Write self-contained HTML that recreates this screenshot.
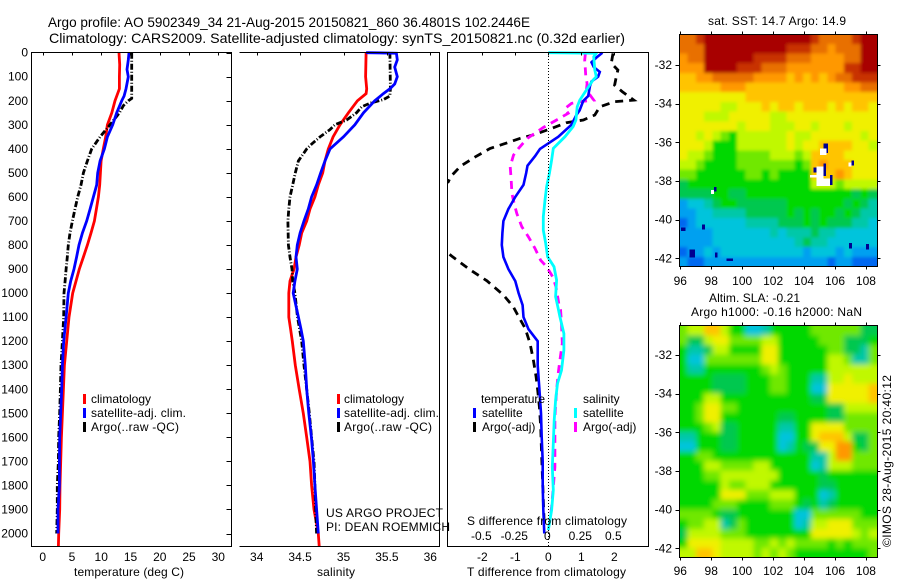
<!DOCTYPE html>
<html>
<head>
<meta charset="utf-8">
<title>Argo profile</title>
<style>
html,body{margin:0;padding:0;background:#fff;}
svg{display:block;}
text{font-family:"Liberation Sans",sans-serif;font-size:12px;fill:#000;}
.ax{stroke:#000;stroke-width:1;fill:none;shape-rendering:crispEdges;}
</style>
</head>
<body>
<svg id="chart" width="900" height="580" viewBox="0 0 900 580" xmlns="http://www.w3.org/2000/svg">
<defs>
<clipPath id="clipT"><rect x="31.5" y="51" width="200" height="495.5"/></clipPath>
<clipPath id="clipS"><rect x="239.5" y="51" width="200" height="495.5"/></clipPath>
<clipPath id="clipD"><rect x="447.5" y="51" width="201" height="495.5"/></clipPath>
<clipPath id="clipSst"><rect x="679.5" y="34.5" width="197.5" height="232"/></clipPath>
<clipPath id="clipSla"><rect x="679.5" y="325.5" width="197.5" height="232"/></clipPath>
<filter id="blurSst" x="-5%" y="-5%" width="110%" height="110%"><feGaussianBlur stdDeviation="1.6"/></filter>
<filter id="blurSla" x="-5%" y="-5%" width="110%" height="110%"><feGaussianBlur stdDeviation="2.6"/></filter>
</defs>
<rect x="0" y="0" width="900" height="580" fill="#fff"/>
<text x="48" y="27" style="font-size:14px" textLength="482" lengthAdjust="spacingAndGlyphs">Argo profile: AO 5902349_34 21-Aug-2015 20150821_860 36.4801S 102.2446E</text>
<text x="49" y="43" style="font-size:14px" textLength="576" lengthAdjust="spacingAndGlyphs">Climatology: CARS2009. Satellite-adjusted climatology: synTS_20150821.nc (0.32d earlier)</text>

<g clip-path="url(#clipSst)"><g id="sstCells" filter="url(#blurSst)"></g></g>
<g clip-path="url(#clipSla)"><g id="slaCells" filter="url(#blurSla)"></g></g>
<g id="maps"></g>
<g id="lines"></g>
<g id="ticks"></g>

<g>
<path class="ax" d="M31.5 52.5H231.5V546.5H31.5Z"/>
</g>
<g>
<path class="ax" d="M239.5 52.5H439.5V546.5H239.5"/>
</g>
<g>
<path class="ax" d="M447.5 52.5H648.5V546.5H447.5Z"/>
</g>
<line x1="548.5" y1="53" x2="548.5" y2="546" stroke="#000" stroke-width="1" stroke-dasharray="1 2" shape-rendering="crispEdges"/>

<text x="74" y="576" textLength="110">temperature (deg C)</text>
<text x="317" y="576" textLength="38">salinity</text>
<text x="467" y="576" textLength="159">T difference from climatology</text>
<text x="467" y="525" textLength="160">S difference from climatology</text>

<g>
<rect x="83" y="394" width="3" height="10" fill="#f00"/>
<rect x="83" y="408" width="3" height="10" fill="#00f"/>
<rect x="83" y="422" width="3" height="10" fill="#000"/>
<text x="91" y="403">climatology</text>
<text x="91" y="417" textLength="95">satellite-adj. clim.</text>
<text x="91" y="431" textLength="88">Argo(..raw -QC)</text>
</g>
<g>
<rect x="337" y="394" width="3" height="10" fill="#f00"/>
<rect x="337" y="408" width="3" height="10" fill="#00f"/>
<rect x="337" y="422" width="3" height="10" fill="#000"/>
<text x="344" y="403">climatology</text>
<text x="344" y="417" textLength="95">satellite-adj. clim.</text>
<text x="344" y="431" textLength="88">Argo(..raw -QC)</text>
</g>
<g>
<text x="481" y="403" textLength="64">temperature</text>
<rect x="473" y="408" width="3" height="10" fill="#00f"/>
<text x="482" y="417">satellite</text>
<rect x="473" y="422" width="3" height="10" fill="#000"/>
<text x="482" y="431">Argo(-adj)</text>
<text x="583" y="403">salinity</text>
<rect x="574" y="408" width="3" height="10" fill="#0ff"/>
<text x="583" y="417">satellite</text>
<rect x="574" y="422" width="3" height="10" fill="#f0f"/>
<text x="583" y="431">Argo(-adj)</text>
</g>
<text x="326" y="517" textLength="117">US ARGO PROJECT</text>
<text x="326" y="531" textLength="124">PI: DEAN ROEMMICH</text>

<text x="708" y="25" textLength="138">sat. SST: 14.7 Argo: 14.9</text>
<text x="709" y="302" textLength="91">Altim. SLA: -0.21</text>
<text x="691" y="316" textLength="171">Argo h1000: -0.16 h2000: NaN</text>
<text transform="translate(891 547) rotate(-90)" x="0" y="0" textLength="172">©IMOS 28-Aug-2015 20:40:12</text>
</svg>

<script>
// ---- temperature panel data ----
const tempDepthClim = [0,50,100,150,200,250,300,350,400,450,500,550,600,650,700,750,800,850,900,950,1000,1100,1200,1300,1400,1500,1600,1700,1800,1900,2000,2053];
const tempClim = [13.04,13.15,13.1,13.1,12.36,11.8,11.05,10.76,10.36,9.97,9.85,9.74,9.51,9.17,8.83,8.26,7.63,6.95,6.26,5.69,5.13,4.5,4.1,3.7,3.53,3.36,3.19,3.08,2.96,2.9,2.73,2.68];
const tempDepthSat = [0,30,70,100,150,180,200,250,300,350,400,450,500,550,600,650,700,750,800,850,900,950,1000,1100,1200,1300,1400,1500,1600,1700,1800,1900,2000];
const tempSat = [14.75,14.63,14.41,14.63,14.24,13.9,13.5,12.64,11.96,11.05,10.54,9.8,9.4,9.23,8.66,8.09,7.52,6.78,6.2,5.8,5.35,4.78,4.38,3.99,3.59,3.36,3.25,3.08,2.9,2.85,2.85,2.62,2.62];
const tempDepthArgo = [0,100,190,200,220,250,300,350,400,450,500,550,600,650,700,750,800,850,900,950,1000,1100,1200,1300,1400,1500,1600,1700,1800,1900,2000];
const tempArgo = [15.2,15.2,15.2,14.63,13.78,13.1,11.5,9.8,8.37,7.63,6.95,6.55,5.98,5.52,5.07,4.67,4.38,4.2,3.99,3.82,3.64,3.59,3.36,3.13,3.02,2.9,2.73,2.68,2.5,2.5,2.4];

// ---- salinity panel data ----
const salDepthClim = [0,100,150,170,200,250,300,350,400,450,500,550,600,650,700,750,800,850,900,950,1000,1100,1150,1200,1300,1400,1500,1600,1700,1800,1900,2000,2053];
const salClim = [35.26,35.255,35.267,35.26,35.16,35.056,34.96,34.88,34.825,34.787,34.76,34.71,34.67,34.614,34.576,34.518,34.49,34.453,34.43,34.384,34.37,34.37,34.39,34.41,34.445,34.49,34.537,34.576,34.614,34.633,34.66,34.71,34.72];
const salDepthSat = [0,2,30,60,100,130,150,170,200,250,300,350,400,450,500,550,600,650,700,750,800,850,900,950,1000,1100,1150,1200,1300,1400,1500,1600,1700,1800,1900,2000];
const salSat = [35.26,35.61,35.62,35.59,35.62,35.59,35.535,35.46,35.36,35.23,35.13,35.0,34.845,34.787,34.737,34.69,34.633,34.595,34.545,34.5,34.468,34.453,34.468,34.44,34.42,34.48,34.51,34.537,34.56,34.576,34.6,34.63,34.653,34.67,34.69,34.71];
const salDepthArgo = [0,150,180,195,210,225,250,280,300,320,350,380,400,430,450,500,550,600,650,700,800,850,900,950,1000,1100,1200,1300,1400,1500,1600,1700,1800,1900,2000];
const salArgo = [35.535,35.54,35.535,35.46,35.305,35.21,35.15,35.036,34.9,34.845,34.73,34.633,34.576,34.518,34.48,34.445,34.415,34.384,34.37,34.36,34.365,34.384,34.407,34.415,34.44,34.47,34.518,34.545,34.576,34.606,34.633,34.66,34.67,34.68,34.69];

// ---- difference panel data ----
const dtDepthSat = [0,20,40,60,80,100,120,140,180,200,240,260,300,350,400,430,470,500,550,600,650,700,750,800,850,900,950,1000,1050,1100,1150,1200,1300,1400,1500,1600,1700,1800,1900,2000];
const dtSat = [1.64,1.46,1.31,1.38,1.56,1.51,1.31,1.26,1.21,1.06,0.95,0.85,0.7,0.3,-0.25,-0.4,-0.63,-0.67,-0.75,-1.0,-1.21,-1.36,-1.39,-1.41,-1.36,-1.21,-1.0,-0.9,-0.78,-0.75,-0.6,-0.32,-0.32,-0.27,-0.22,-0.2,-0.17,-0.17,-0.15,-0.12];
const dtDepthArgo = [3,44,72,100,135,162,197,204,225,259,280,291,315,340,356,380,398,433,472,516,537,600,760,849,904,949,1008,1057,1085,1147,1210,1279,1348,1404,1473,1556,1681,1860,1972];
const dtArgo = [1.96,1.91,2.11,2.06,2.01,2.24,2.59,2.01,1.56,1.41,1.06,0.55,0.1,-0.4,-0.85,-1.36,-1.76,-2.21,-2.66,-2.96,-3.03,-3.7,-3.7,-2.9,-2.36,-1.86,-1.36,-1.06,-0.95,-0.7,-0.55,-0.45,-0.37,-0.32,-0.27,-0.23,-0.2,-0.15,-0.12];
const dsDepthSat = [0,2,17,72,100,114,155,197,225,280,308,350,398,447,502,558,613,682,738,793,849,890,946,1015,1064,1098,1168,1237,1321,1376,1445,1529,1626,1723,1820,1903,1986];
const dsSat = [0,0.364,0.344,0.352,0.364,0.339,0.289,0.239,0.219,0.209,0.188,0.126,0.038,0.025,0.008,-0.013,-0.025,-0.038,-0.038,-0.02,-0.005,0.043,0.063,0.055,0.075,0.088,0.118,0.118,0.1,0.07,0.055,0.045,0.038,0.03,0.038,0.025,0];
const dsDepthArgo = [3,31,72,100,128,155,197,204,211,232,252,280,311,356,398,426,474,530,585,627,669,724,766,814,863,890,932,974,1057,1071,1126,1209,1279,1334,1404,1515,1612,1723,1806,1889,1945];
const dsArgo = [0.281,0.276,0.281,0.284,0.294,0.289,0.344,0.239,0.176,0.126,0.151,0.063,-0.038,-0.158,-0.226,-0.264,-0.289,-0.281,-0.276,-0.259,-0.239,-0.201,-0.151,-0.101,-0.058,-0.013,0.033,0.058,0.083,0.093,0.1,0.106,0.088,0.075,0.063,0.05,0.05,0.05,0.038,0.025,0.013];

// ---- tick labels ----
const depthTicks = [0,100,200,300,400,500,600,700,800,900,1000,1100,1200,1300,1400,1500,1600,1700,1800,1900,2000];
const tempTicks = [0,5,10,15,20,25,30];
const salTicks = [34,34.5,35,35.5,36];
const dtTicks = [-2,-1,0,1,2];
const dsTicks = [-0.5,-0.25,0,0.25,0.5];
const lonTicks = [96,98,100,102,104,106,108];
const latTicks = [-32,-34,-36,-38,-40,-42];

// ---- SST map levels (palette index by row, north to south) ----
const sstLevels = [
[12,12,13,14,14,14,14,14,14,14,14,14,14,14,14,14,13,12,12,12,12,13,14,14],
[12,12,12,14,14,14,14,14,14,14,14,14,14,13,13,13,12,12,11,12,12,12,14,14],
[11,12,12,14,14,14,14,14,14,13,13,13,13,12,12,12,11,11,11,11,12,12,14,14],
[11,11,11,14,14,14,14,13,13,13,12,12,12,11,11,11,11,11,11,11,13,13,14,14],
[10,10,11,11,12,12,12,12,12,11,11,11,11,10,11,10,11,10,11,12,12,13,13,13],
[10,10,10,10,10,11,11,11,10,10,10,10,10,10,10,10,10,10,10,10,11,11,12,12],
[9,9,9,9,9,9,9,9,10,10,10,10,10,10,10,10,10,10,10,10,10,10,10,10],
[9,9,9,9,9,8,8,9,9,9,10,9,10,10,9,10,10,10,9,10,9,10,10,9],
[9,9,9,8,8,8,9,9,9,9,9,8,8,9,9,9,9,9,9,9,9,9,9,9],
[9,9,9,9,9,9,9,8,9,9,9,8,8,8,9,9,8,9,9,9,8,9,9,9],
[9,9,8,9,8,7,6,8,8,8,8,8,8,9,8,8,9,9,9,9,9,9,8,9],
[9,9,9,8,6,6,6,8,8,8,8,8,8,9,8,9,9,10,10,10,10,9,9,8],
[9,8,8,7,6,6,6,7,7,7,7,8,8,8,7,8,10,10,10,10,9,9,9,9],
[8,8,7,6,6,6,6,7,7,7,7,7,7,7,6,7,10,11,10,10,10,9,9,9],
[7,7,6,6,6,6,6,6,7,7,6,7,6,6,6,6,10,10,10,11,10,9,9,9],
[5,6,6,6,6,6,6,6,6,6,6,6,6,6,6,6,8,8,8,7,8,8,8,8],
[5,5,5,5,6,6,5,5,6,6,6,6,6,6,6,6,6,6,6,6,6,5,6,5],
[2,3,3,4,5,6,6,5,5,5,5,5,5,6,6,6,6,6,6,6,5,6,5,4],
[2,2,3,3,4,4,4,4,5,5,5,5,5,6,5,6,5,6,6,5,6,5,4,4],
[1,2,3,3,3,3,3,3,4,4,4,4,5,5,5,6,5,6,5,5,5,4,4,3],
[2,2,2,2,3,3,3,3,3,3,3,4,3,4,4,4,5,4,4,3,3,3,3,3],
[2,2,2,2,3,3,3,3,3,3,3,3,3,3,4,5,4,4,3,3,3,3,3,3],
[1,2,2,3,2,3,3,3,3,3,3,3,3,3,3,2,3,3,3,2,3,2,2,2],
[2,1,1,2,2,2,2,2,2,2,2,2,2,2,2,2,2,2,1,2,2,1,1,1]
];

// ---- SLA map levels ----
const slaLevels = [
[7,8,8,10,10,8,6,6,3,3,4,6,6,6,6,6,7,7,7,7,7,7,5,5],
[7,5,5,8,9,9,7,7,7,7,8,8,6,6,6,6,6,7,7,7,5,5,5,6],
[6,4,4,5,8,8,6,6,6,6,9,9,6,6,6,6,6,6,7,7,5,5,4,7],
[6,3,3,7,7,7,7,7,7,7,9,9,6,6,6,6,6,6,8,8,7,4,4,7],
[6,4,4,6,6,6,6,6,6,6,7,8,7,6,6,6,6,6,8,8,8,8,8,8],
[6,6,6,6,5,5,5,5,6,6,6,7,7,6,6,6,4,4,8,8,9,8,8,8],
[6,6,6,6,5,5,5,5,6,6,6,7,7,6,6,6,3,3,9,9,9,9,9,10],
[6,6,6,8,8,6,6,6,6,6,6,6,6,6,6,6,5,5,9,9,9,9,9,10],
[6,6,7,9,9,7,7,6,6,6,6,6,6,6,6,6,6,6,5,5,8,8,8,8],
[6,6,7,9,9,6,6,6,6,6,6,6,5,5,6,6,6,6,5,5,7,7,7,7],
[6,6,6,7,8,5,5,6,6,6,6,6,4,4,6,6,9,9,9,9,7,7,7,7],
[4,4,6,6,6,5,5,6,6,6,6,6,3,3,6,6,9,10,10,10,8,5,5,7],
[3,3,6,6,6,5,5,6,6,6,6,6,3,4,6,5,5,9,9,11,11,6,5,7],
[6,6,7,7,6,6,6,6,6,6,6,6,6,6,6,6,4,4,8,11,11,7,7,7],
[6,6,6,8,8,7,7,7,7,8,8,6,6,6,6,6,3,4,8,8,8,7,7,7],
[6,6,6,7,7,8,8,8,8,8,8,8,6,6,6,6,6,5,6,6,6,6,6,6],
[6,6,6,6,6,8,7,7,8,8,8,6,6,6,6,6,6,5,5,6,6,6,6,6],
[6,6,6,6,6,9,9,9,7,7,7,8,8,8,6,6,6,3,4,6,6,6,6,6],
[6,6,6,6,7,7,7,6,6,6,6,7,7,7,6,5,6,4,5,6,6,6,6,6],
[7,7,7,7,6,5,5,6,6,6,6,6,6,6,3,3,7,7,7,7,7,7,6,6],
[6,7,7,8,8,4,5,7,6,6,6,6,6,6,3,4,8,8,9,9,9,7,7,7],
[5,8,8,8,8,7,7,7,6,6,6,6,6,6,6,6,9,9,9,9,9,8,7,8],
[6,9,9,9,9,8,8,8,8,7,7,8,7,8,7,7,7,7,6,7,6,7,7,7],
[8,8,10,10,9,8,8,8,8,7,8,7,8,7,6,6,6,6,6,6,6,6,6,7]
];

// SST missing-data patches, in degrees: west, north, east, south
const sstGapWest  = [105.03,104.8,104.4,104.8,97.98,106.86];
const sstGapNorth = [-36.31,-37.26,-37.7,-37.86,-38.47,-37.05];
const sstGapEast  = [105.46,105.25,104.8,105.68,98.18,107.06];
const sstGapSouth = [-36.66,-38.03,-37.83,-38.26,-38.67,-37.26];
const sstEdgeWest  = [105.25,105.25,104.62,105.68,98.18,107.06,96.05,96.6,97.4,98.25,99.0,106.9,108.0];
const sstEdgeNorth = [-36.05,-37.09,-37.3,-37.7,-38.3,-36.95,-40.4,-41.55,-40.25,-41.7,-42.0,-41.2,-41.25];
const sstEdgeEast  = [105.55,105.42,104.8,105.83,98.35,107.24,96.35,96.95,97.6,98.4,99.4,107.1,108.2];
const sstEdgeSouth = [-36.55,-37.75,-37.55,-38.2,-38.55,-37.2,-40.6,-41.95,-40.5,-41.95,-42.15,-41.5,-41.55];

const paletteColors = ['#000090','#0068f0','#00a0f0','#00c4dc','#00c8a8','#00c850','#00d800','#70e800','#c0f800','#f0f000','#ffc400','#ff9800','#e87000','#c83000','#a80000'];

// ---- axis functions ----
const NS = 'http://www.w3.org/2000/svg';
const yOfDepth = d => 52.7 + 0.2404 * d;
const xOfTemp = t => 42.7 + 5.853 * t;
const xOfSal = s => 256.7 + 86.8 * (s - 34);
const xOfDt = t => 548.3 + 33 * t;
const xOfDs = s => 548.3 + 132 * s;
const xOfLon = lon => 680.3 + 15.47 * (lon - 96);
const yOfLatSst = lat => 65 - 19.33 * (lat + 32);
const yOfLatSla = lat => 355 - 19.33 * (lat + 32);

function make(tag, attrs, parent) {
  const el = document.createElementNS(NS, tag);
  for (const k in attrs) el.setAttribute(k, attrs[k]);
  parent.appendChild(el);
  return el;
}

const linesG = document.getElementById('lines');
const ticksG = document.getElementById('ticks');
const mapsG = document.getElementById('maps');
const sstG = document.getElementById('sstCells');
const slaG = document.getElementById('slaCells');

function drawLine(depths, values, xf, color, width, dash, clip, name) {
  const pts = depths.map((d, i) => xf(values[i]).toFixed(1) + ',' + yOfDepth(d).toFixed(1)).join(' ');
  const attrs = {points: pts, fill: 'none', stroke: color, 'stroke-width': width, 'clip-path': 'url(#' + clip + ')'};
  if (dash) attrs['stroke-dasharray'] = dash;
  const el = make('polyline', attrs, linesG);
  
  
}

drawLine(tempDepthClim, tempClim, xOfTemp, '#f00', 2.8, null, 'clipT', 'temperature-climatology-line');
drawLine(tempDepthArgo, tempArgo, xOfTemp, '#000', 2.8, '6 2 1 2', 'clipT', 'temperature-argo-line');
drawLine(tempDepthSat, tempSat, xOfTemp, '#00f', 2.8, null, 'clipT', 'temperature-satellite-line');
drawLine(salDepthClim, salClim, xOfSal, '#f00', 2.8, null, 'clipS', 'salinity-climatology-line');
drawLine(salDepthArgo, salArgo, xOfSal, '#000', 2.8, '6 2 1 2', 'clipS', 'salinity-argo-line');
drawLine(salDepthSat, salSat, xOfSal, '#00f', 2.8, null, 'clipS', 'salinity-satellite-line');
drawLine(dtDepthArgo, dtArgo, xOfDt, '#000', 2.8, '8 6', 'clipD', 't-difference-argo-line');
drawLine(dsDepthArgo, dsArgo, xOfDs, '#f0f', 2.8, '8 6', 'clipD', 's-difference-argo-line');
drawLine(dtDepthSat, dtSat, xOfDt, '#00f', 2.6, null, 'clipD', 't-difference-satellite-line');
drawLine(dsDepthSat, dsSat, xOfDs, '#0ff', 2.8, null, 'clipD', 's-difference-satellite-line');

function drawTick(x1, y1, x2, y2) {
  const el = make('line', {x1: x1, y1: y1, x2: x2, y2: y2, stroke: '#000', 'stroke-width': 1, 'shape-rendering': 'crispEdges'}, ticksG);
  
  
}
function drawLabel(x, y, anchor, str) {
  const el = make('text', {x: x, y: y, 'text-anchor': anchor}, ticksG);
  el.textContent = str;
  
  
}
const snap = v => Math.round(v) + 0.5;

depthTicks.forEach(d => {
  const y = snap(yOfDepth(d));
  drawTick(226.5, y, 231.5, y);
  drawLabel(28, yOfDepth(d) + 4, 'end', String(d));
});
tempTicks.forEach(t => {
  const x = snap(xOfTemp(t));
  drawTick(x, 52.5, x, 55.5);
  drawLabel(xOfTemp(t), 561, 'middle', String(t));
});
salTicks.forEach(s => {
  const x = snap(xOfSal(s));
  drawTick(x, 52.5, x, 55.5);
  drawLabel(xOfSal(s), 561, 'middle', String(s));
});
dtTicks.forEach(t => {
  const x = snap(xOfDt(t));
  drawTick(x, 52.5, x, 55.5);
  drawLabel(xOfDt(t), 561, 'middle', String(t));
});
dsTicks.forEach(s => {
  drawLabel(xOfDs(s) - 1, 540, 'middle', String(s));
});

// ---- maps ----
function drawMap(levels, yOfLat, latTop, latBottom, target, name) {
  const lonW = 95.95, lonE = 108.7;
  const rows = levels.length, cols = levels[0].length;
  const dLon = (lonE - lonW) / cols, dLat = (latBottom - latTop) / rows;
  const pad = 10;
  levels.forEach((row, r) => {
    row.forEach((v, c) => {
      let x0 = xOfLon(lonW + c * dLon), x1 = xOfLon(lonW + (c + 1) * dLon);
      let y0 = yOfLat(latTop + r * dLat), y1 = yOfLat(latTop + (r + 1) * dLat);
      if (c === 0) x0 -= pad;
      if (c === cols - 1) x1 += pad;
      if (r === 0) y0 -= pad;
      if (r === rows - 1) y1 += pad;
      const el = make('rect', {x: x0.toFixed(2), y: y0.toFixed(2), width: (x1 - x0 + 0.4).toFixed(2), height: (y1 - y0 + 0.4).toFixed(2), fill: paletteColors[v], 'shape-rendering': 'crispEdges'}, target);
      
      
    });
  });
}
drawMap(sstLevels, yOfLatSst, -30.4, -42.43, sstG, 'sst-cell');
drawMap(slaLevels, yOfLatSla, -30.48, -42.49, slaG, 'sla-cell');

function drawPatches(w, n, e, s, color, name) {
  w.forEach((lon, i) => {
    const el = make('rect', {x: xOfLon(lon), y: yOfLatSst(n[i]), width: xOfLon(e[i]) - xOfLon(lon), height: yOfLatSst(s[i]) - yOfLatSst(n[i]), fill: color, 'shape-rendering': 'crispEdges'}, mapsG);
    
    
  });
}
drawPatches(sstEdgeWest, sstEdgeNorth, sstEdgeEast, sstEdgeSouth, paletteColors[0], 'sst-dark-patch');
drawPatches(sstGapWest, sstGapNorth, sstGapEast, sstGapSouth, '#fff', 'sst-missing-patch');

function drawMapAxes(yTop, yBottom, yOfLat, labelY, name) {
  const frame = make('path', {class: 'ax', d: 'M679.5 ' + yTop + 'H877.5V' + yBottom + 'H679.5Z', fill: 'none'}, ticksG);
  
  
  lonTicks.forEach(lon => {
    const x = snap(xOfLon(lon));
    drawTick(x, yBottom, x, yBottom + 3);
    drawTick(x, yTop - 3, x, yTop);
    drawLabel(xOfLon(lon), labelY, 'middle', String(lon));
  });
  latTicks.forEach(lat => {
    const y = snap(yOfLat(lat));
    drawTick(675.5, y, 679.5, y);
    drawTick(877.5, y, 880.5, y);
    drawLabel(672, yOfLat(lat) + 4, 'end', String(lat));
  });
}
drawMapAxes(34.5, 266.5, yOfLatSst, 285, 'sst-map-frame');
drawMapAxes(325.5, 557.5, yOfLatSla, 575, 'sla-map-frame');
</script>
</body>
</html>
